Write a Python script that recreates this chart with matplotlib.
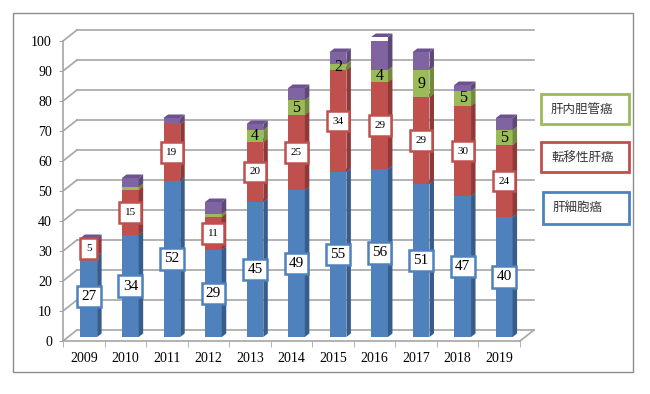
import numpy as np
import matplotlib
matplotlib.use('Agg')
import matplotlib.pyplot as plt
import matplotlib.transforms as mt
from matplotlib.patches import Polygon, Rectangle

years = ['2009', '2010', '2011', '2012', '2013', '2014', '2015', '2016', '2017', '2018', '2019']
hcc = [27, 34, 52, 29, 45, 49, 55, 56, 51, 47, 40]      # 肝細胞癌
meta = [5, 15, 19, 11, 20, 25, 34, 29, 29, 30, 24]      # 転移性肝癌
icc = [0, 1, 0, 1, 4, 5, 2, 4, 9, 5, 5]                 # 肝内胆管癌
other = [1, 3, 2, 4, 2, 4, 4, 11, 6, 2, 4]              # その他 (no label)
legend_names = ['肝内胆管癌', '転移性肝癌', '肝細胞癌']

plt.rcParams['font.family'] = ['Liberation Serif', 'DejaVu Serif']
W, H = 650, 394
fig = plt.figure(figsize=(W / 100, H / 100), dpi=100)
fig.patch.set_facecolor('white')

# front plane of the 3d box, in pixels
L, R, Y0, Y100 = 63, 520, 341, 41
ax = fig.add_axes([L / W, 1 - Y0 / H, (R - L) / W, (Y0 - Y100) / H])
ax.set_xlim(-0.5, len(years) - 0.5)
ax.set_ylim(0, 100)
ax.patch.set_visible(False)

sx = (R - L) / len(years)
sy = (Y0 - Y100) / 100
def d(px, py):
    return px / sx, py / sy

wx, wy = d(14, 11)     # back wall offset
fx, fy = d(5, 4)       # bar front offset
kx, ky = d(4.5, 3.5)   # bar depth
bw = 16.7 / sx

grid_c = '#a6a6a6'
xl, xr = -0.5, len(years) - 0.5
for v in range(0, 101, 10):
    ax.plot([xl + wx, xr + wx], [v + wy, v + wy], color=grid_c, lw=1.2, zorder=1, clip_on=False)
    ax.plot([xl, xl + wx], [v, v + wy], color=grid_c, lw=1.2, zorder=1, clip_on=False)
ax.plot([xr, xr + wx], [0, wy], color=grid_c, lw=1.2, zorder=1, clip_on=False)

series = [
    (hcc, '#4F81BD', '#385D8A', '#4674AE'),
    (meta, '#C0504D', '#8E3A38', '#AE4845'),
    (icc, '#9BBB59', '#718A3F', '#8DAB4F'),
    (other, '#8064A2', '#5D4878', '#6C5390'),
]
xs = np.arange(len(years))
base = np.zeros(len(years))
for vals, cf, cs, ct in series:
    vals = np.array(vals, dtype=float)
    ax.bar(xs + fx, vals, bw, bottom=base + fy, color=cf, lw=0, zorder=3)
    for i, v in enumerate(vals):
        if v <= 0:
            continue
        x0 = i - bw / 2 + fx
        x1 = x0 + bw
        y0 = base[i] + fy
        y1 = y0 + v
        ax.add_patch(Polygon([(x1, y0), (x1 + kx, y0 + ky), (x1 + kx, y1 + ky), (x1, y1)],
                             fc=cs, lw=0, zorder=3, clip_on=False))
        ax.add_patch(Polygon([(x0, y1), (x1, y1), (x1 + kx, y1 + ky), (x0 + kx, y1 + ky)],
                             fc=ct, lw=0, zorder=3, clip_on=False))
    base = base + vals

# data labels
for i in range(len(years)):
    ax.text(i + fx, hcc[i] / 2 + fy, str(hcc[i]), ha='center', va='center', fontsize=11,
            zorder=6, bbox=dict(boxstyle='square,pad=0.28', fc='white', ec='#4F81BD', lw=1.8))
    ax.text(i + fx, hcc[i] + meta[i] / 2 + fy, str(meta[i]), ha='center', va='center', fontsize=8,
            zorder=6, bbox=dict(boxstyle='square,pad=0.5', fc='white', ec='#C0504D', lw=1.8))
    if icc[i] >= 2:
        ax.text(i + fx, hcc[i] + meta[i] + icc[i] / 2 + fy, str(icc[i]), ha='center', va='center',
                fontsize=11.5, zorder=6)

# axes
for s in ['top', 'right']:
    ax.spines[s].set_visible(False)
for s in ['left', 'bottom']:
    ax.spines[s].set_color(grid_c)
    ax.spines[s].set_linewidth(1.2)
ax.set_yticks(range(0, 101, 10))
ax.tick_params(axis='y', length=3, color=grid_c, labelsize=10, pad=5)
ax.set_xticks(xs, years)
ax.tick_params(axis='x', which='major', length=0, labelsize=10, pad=8)
ax.set_xticks(np.arange(-0.5, len(years), 1), minor=True)
ax.tick_params(axis='x', which='minor', length=4, color=grid_c)

# legend boxes and outer frame, in pixel coords
px = mt.Affine2D().scale(1 / W, -1 / H).translate(0, 1) + fig.transFigure
boxes = [(541, 94, 88, 30, '#9BBB59'), (541, 142, 88, 30, '#C0504D'), (543, 192, 86, 32, '#4F81BD')]
for (bx, by, w, h, c), name in zip(boxes, legend_names):
    fig.add_artist(Rectangle((bx, by), w, h, transform=px, fc='white', ec=c, lw=2))
    fig.text(bx + 10, by + h / 2, name, transform=px, ha='left', va='center', fontsize=9,
             family=['Noto Sans CJK JP', 'DejaVu Sans'], color='#333333')
fig.add_artist(Rectangle((13, 13), 620, 359, transform=px, fill=False, ec='#8c8c8c', lw=1))

fig.savefig('out.png', dpi=100)
